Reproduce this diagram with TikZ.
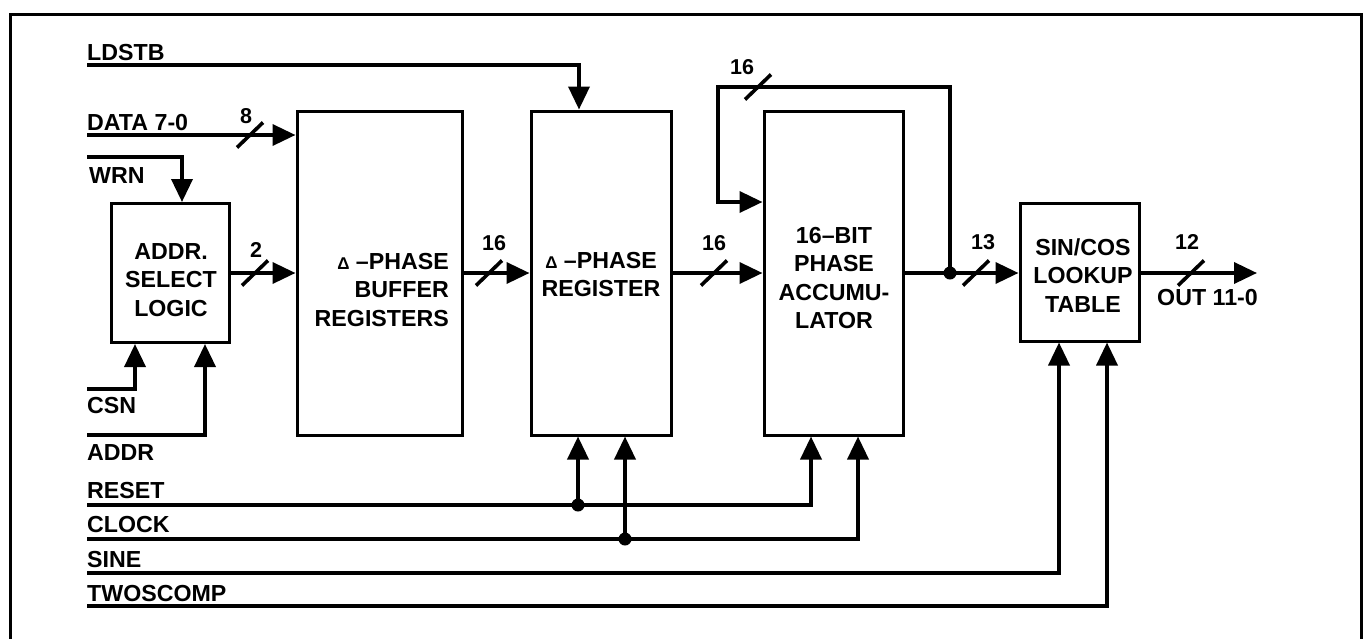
\documentclass[tikz,border=0pt]{standalone}
\usepackage{fontspec}
\setmainfont{Liberation Sans}
\usetikzlibrary{arrows.meta}
\newcommand\mydelta{{\fontsize{17}{17}\selectfont Δ}}
\begin{document}
\begin{tikzpicture}[x=1pt,y=-1pt,
  sig/.style={line width=3.6pt},
  arr/.style={sig,-{Triangle[length=23pt,width=21pt]}},
  blk/.style={draw,line width=3pt,inner sep=0pt},
  lbl/.style={inner sep=0pt,anchor=base west,font=\fontsize{23.2}{28}\selectfont\bfseries},
  txt/.style={inner sep=0pt,anchor=north,align=center,font=\fontsize{23.2}{28.5}\selectfont\bfseries},
  num/.style={inner sep=0pt,font=\fontsize{21.5}{21.5}\selectfont\bfseries},
  busslash/.pic={\draw[line width=3.6pt] (-13,12.5) -- (13,-12.5);},
  dot/.style={circle,fill,inner sep=0pt,minimum size=13pt}
]
\useasboundingbox (0,0) rectangle (1363,638);
\clip (0,0) rectangle (1363,638);
% frame
\draw[line width=3pt] (10.5,700) -- (10.5,14) -- (1361.5,14) -- (1361.5,700);

% blocks
\node[blk,minimum width=118pt,minimum height=139pt] (addr) at (170,273) {};
\node[blk,minimum width=165pt,minimum height=324pt] (buf) at (379.5,273) {};
\node[blk,minimum width=140pt,minimum height=324pt] (reg) at (601,273) {};
\node[blk,minimum width=139pt,minimum height=324pt] (acc) at (833.5,273) {};
\node[blk,minimum width=119pt,minimum height=138pt] (lut) at (1079.5,272) {};

% block texts
\node[txt] (addrT) at (171,243) {ADDR.\\SELECT\\LOGIC};
\node[txt,align=right,anchor=north east] (bufT) at (449,253) {\mydelta{} –PHASE\\BUFFER\\REGISTERS};
\node[txt] (regT) at (601,252) {\mydelta{} –PHASE\\REGISTER};
\node[txt] (accT) at (834,227) {16–BIT\\PHASE\\ACCUMU-\\LATOR};
\node[txt] (lutT) at (1083,238) {SIN/COS\\LOOKUP\\TABLE};

% left labels
\node[lbl] (lLD) at (87,60) {LDSTB};
\node[lbl] (lDATA) at (87,130) {DATA 7-0};
\node[lbl] (lWRN) at (89,183) {WRN};
\node[lbl] (lCSN) at (87,413) {CSN};
\node[lbl] (lADDR) at (87,460) {ADDR};
\node[lbl] (lRES) at (87,498) {RESET};
\node[lbl] (lCLK) at (87,532) {CLOCK};
\node[lbl] (lSINE) at (87,567) {SINE};
\node[lbl] (lTWO) at (87,601) {TWOSCOMP};
\node[lbl] (lOUT) at (1157,305) {OUT 11-0};

% top signals
\coordinate (sLD) at (87,65);
\draw[arr] (sLD) -| ([xshift=-22pt]reg.north);
\coordinate (sDATA) at (87,135);
\draw[arr] (sDATA) -- (sDATA -| buf.west);
\coordinate (sWRN) at (87,157);
\draw[arr] (sWRN) -| ([xshift=12pt]addr.north);

% data path
\draw[arr] (addr.east) -- (addr.east -| buf.west);
\draw[arr] (buf.east) -- (reg.west);
\draw[arr] (reg.east) -- (acc.west);
\coordinate (j) at (950,273);
\draw[sig] (acc.east) -- (j);
\draw[arr] (j) -- (j -| lut.west);
\coordinate (fb1) at (718,87);
\coordinate (fb2) at (718,202);
\draw[arr] (j) |- (fb1) -- (fb2) -- (fb2 -| acc.west);
\node[dot] (jd) at (j) {};
\coordinate (out) at (1257,273);
\draw[arr] (j -| lut.east) -- (out);

% bottom signals
\coordinate (sCSN) at (87,389);
\draw[arr] (sCSN) -| ([xshift=-35pt]addr.south);
\coordinate (sADDR) at (87,435);
\draw[arr] (sADDR) -| ([xshift=35pt]addr.south);
\coordinate (sRES) at (87,505);
\draw[arr] (sRES) -| ([xshift=-22.5pt]acc.south);
\coordinate (rd) at (578,505);
\draw[arr] (rd) -- (rd |- reg.south);
\node[dot] (rdot) at (rd) {};
\coordinate (sCLK) at (87,539);
\draw[arr] (sCLK) -| ([xshift=24.5pt]acc.south);
\coordinate (cd) at (625,539);
\draw[arr] (cd) -- (cd |- reg.south);
\node[dot] (cdot) at (cd) {};
\coordinate (sSINE) at (87,573);
\draw[arr] (sSINE) -| ([xshift=-20.5pt]lut.south);
\coordinate (sTWO) at (87,606);
\draw[arr] (sTWO) -| ([xshift=27.5pt]lut.south);

% bus widths
\pic at (250,135) {busslash}; \node[num] (n8) at (246,116) {8};
\pic at (255,273) {busslash}; \node[num] (n2) at (256,250) {2};
\pic at (489,273) {busslash}; \node[num] (n16a) at (494,243) {16};
\pic at (714,273) {busslash}; \node[num] (n16b) at (714,243) {16};
\pic at (758,87) {busslash}; \node[num] (n16c) at (742,67) {16};
\pic at (976,273) {busslash}; \node[num] (n13) at (983,242) {13};
\pic at (1191,273) {busslash}; \node[num] (n12) at (1187,242) {12};
\end{tikzpicture}
\end{document}
